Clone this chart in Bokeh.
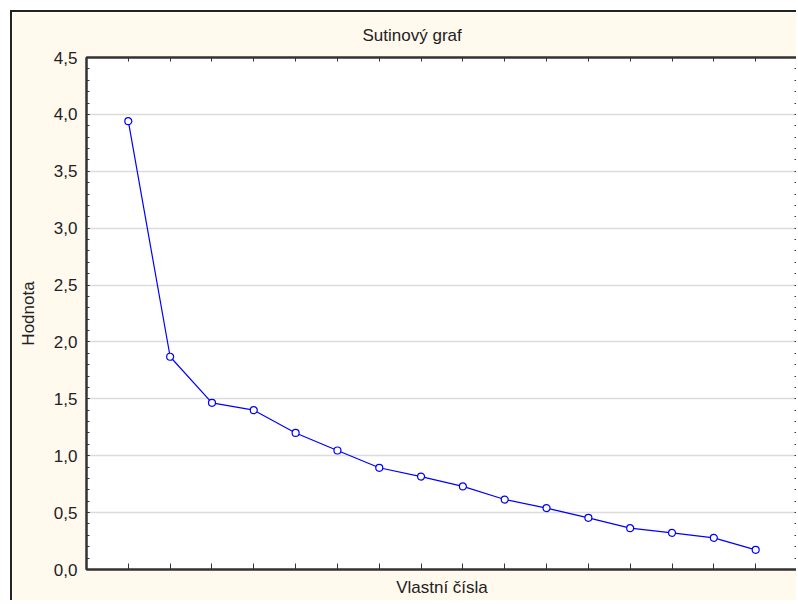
from bokeh.plotting import figure
from bokeh.models import (LinearAxis, SingleIntervalTicker, FixedTicker, Range1d,
                          CustomJSTickFormatter, Title)
from bokeh.embed import file_html
from bokeh.resources import INLINE

# ---- data ----
components = [1, 2, 3, 4, 5, 6, 7, 8, 9, 10, 11, 12, 13, 14, 15, 16]
eigenvalues = [3.94, 1.87, 1.465, 1.40, 1.20, 1.046, 0.894, 0.817,
               0.73, 0.615, 0.54, 0.454, 0.363, 0.322, 0.278, 0.173]
y_minor_ticks = [round(i * 0.1, 1) for i in range(46)]
title_text = "Sutinový graf"
x_label = "Vlastní čísla"
y_label = "Hodnota"

FONT = "Liberation Sans"
FS = "17px"
CREAM = "#fff9ee"
EDGE = "#333333"
TXT = "#222222"

p = figure(width=786, height=590, output_backend="svg", toolbar_location=None,
           x_range=Range1d(0, 17), y_range=Range1d(0, 4.5),
           x_axis_location=None, y_axis_location=None,
           min_border_left=74, min_border_right=1, min_border_top=45,
           min_border_bottom=33)
p.styles = {"margin-left": "10px", "margin-top": "10px",
            "border-left": "2px solid #222222", "border-top": "2px solid #222222"}
p.background_fill_color = "white"
p.border_fill_color = CREAM
p.outline_line_color = EDGE
p.outline_line_width = 2

yticker = SingleIntervalTicker(interval=0.5, num_minor_ticks=5)
x_only_minor = FixedTicker(ticks=[], minor_ticks=components)
y_only_minor = FixedTicker(ticks=[], minor_ticks=y_minor_ticks)


def style_axis(ax, tick_len=3):
    ax.axis_line_color = EDGE
    ax.axis_line_width = 2
    ax.major_tick_line_color = EDGE
    ax.minor_tick_line_color = EDGE
    ax.major_tick_in = tick_len
    ax.major_tick_out = 0
    ax.minor_tick_in = tick_len
    ax.minor_tick_out = 0
    ax.axis_label_text_font = FONT
    ax.axis_label_text_font_size = FS
    ax.axis_label_text_font_style = "normal"
    ax.axis_label_text_color = TXT
    ax.major_label_text_font = FONT
    ax.major_label_text_font_size = FS
    ax.major_label_text_color = TXT


left = LinearAxis(ticker=yticker, axis_label=y_label,
                  formatter=CustomJSTickFormatter(code="return tick.toFixed(1).replace('.', ',');"))
style_axis(left, 3)
left.major_label_standoff = 9
left.axis_label_standoff = 13
p.add_layout(left, "left")

right = LinearAxis(ticker=y_only_minor)
style_axis(right, 3)
p.add_layout(right, "right")

bottom = LinearAxis(ticker=x_only_minor, axis_label=x_label)
style_axis(bottom, 6)
bottom.axis_label_standoff = 8
p.add_layout(bottom, "below")

top = LinearAxis(ticker=x_only_minor)
style_axis(top, 4)
p.add_layout(top, "above")

p.ygrid.ticker = yticker
p.ygrid.grid_line_color = "#dcdcdc"
p.ygrid.grid_line_width = 1.5
p.xgrid.visible = False

t = Title(text=title_text, align="left", offset=276, standoff=24,
          vertical_align="middle",
          text_font=FONT, text_font_size=FS, text_font_style="normal",
          text_color=TXT)
p.add_layout(t, "above")

p.line(components, eigenvalues, line_color="#0000ff", line_width=1.2)
p.scatter(components, eigenvalues, marker="circle", size=7,
          line_color="#0000ff", line_width=1.2, fill_color="white")

open("out.html", "w").write(file_html(p, INLINE))
